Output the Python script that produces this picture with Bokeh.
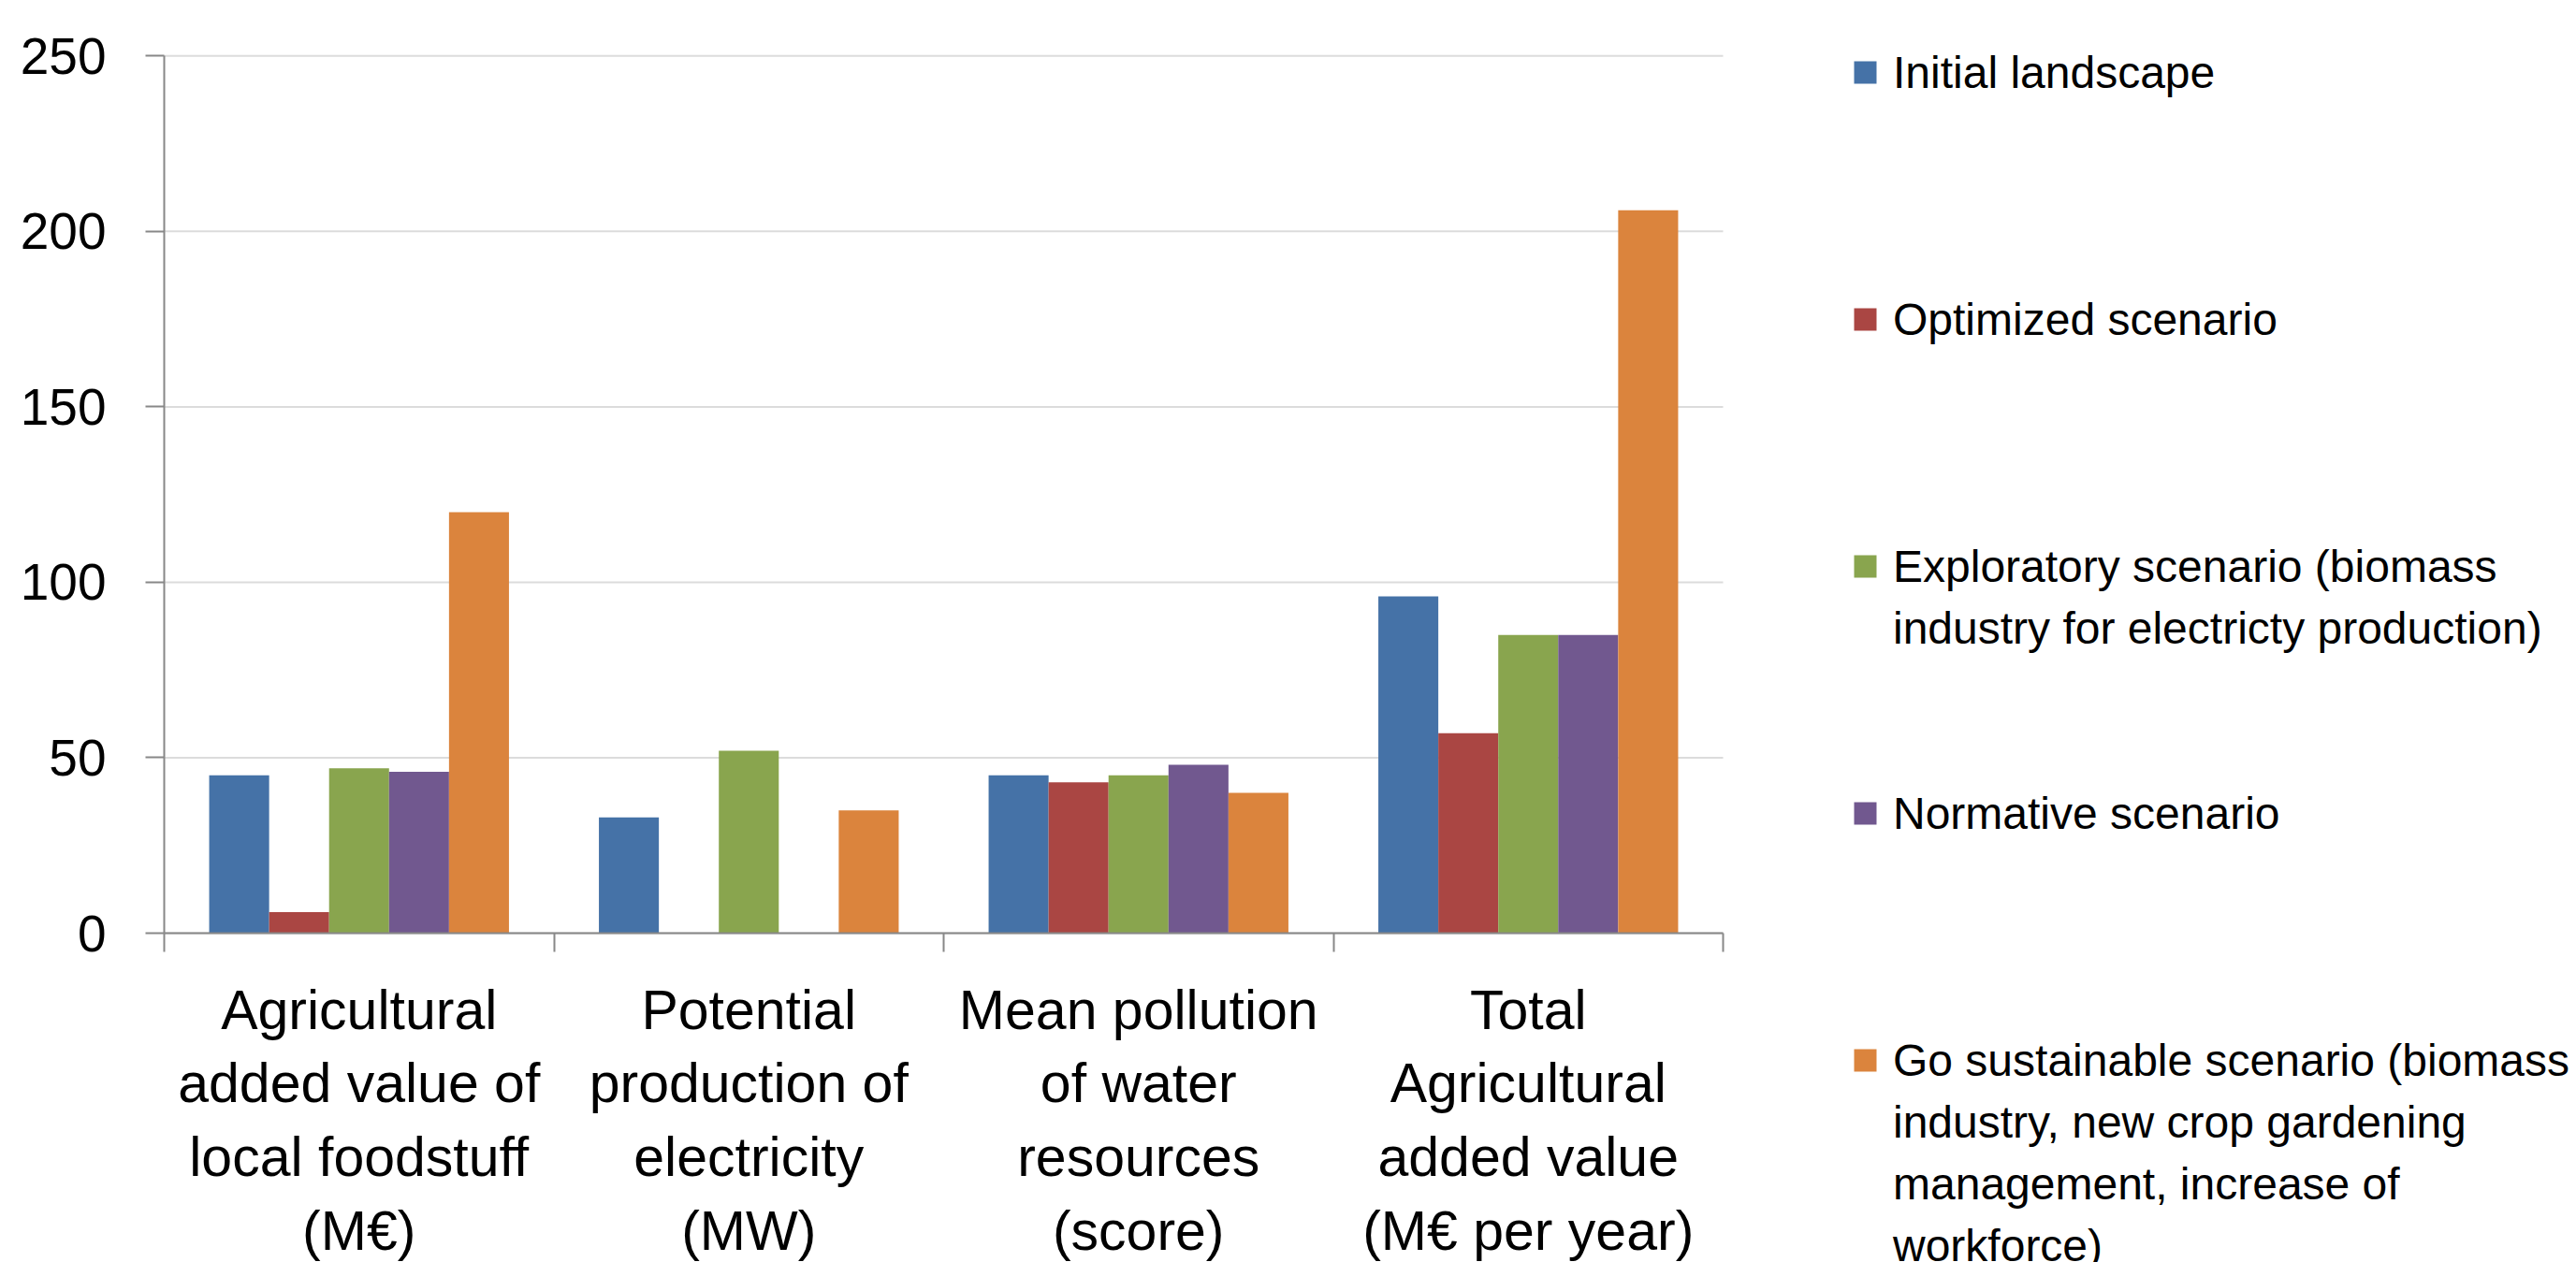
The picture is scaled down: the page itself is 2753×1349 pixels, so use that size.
from bokeh.plotting import figure
from bokeh.models import (ColumnDataSource, Range1d, FixedTicker, Legend, LegendItem)
from bokeh.transform import dodge
from bokeh.embed import file_html
from bokeh.resources import INLINE

# ---------------- data ----------------
categories = [
    "Agricultural\nadded value of\nlocal foodstuff\n(M€)",
    "Potential\nproduction of\nelectricity\n(MW)",
    "Mean pollution\nof water\nresources\n(score)",
    "Total\nAgricultural\nadded value\n(M€ per year)",
]
series_names = [
    "Initial landscape",
    "Optimized scenario",
    "Exploratory scenario (biomass\nindustry for electricty production)",
    "Normative scenario",
    "Go sustainable scenario (biomass\nindustry, new crop gardening\nmanagement, increase of\nworkforce)",
]
initial_landscape = [45, 33, 45, 96]
optimized_scenario = [6, 0, 43, 57]
exploratory_scenario = [47, 52, 45, 85]
normative_scenario = [46, 0, 48, 85]
go_sustainable_scenario = [120, 35, 40, 206]
y_ticks = [0, 50, 100, 150, 200, 250]

colors = ["#4572A7", "#AA4643", "#89A54E", "#71588F", "#DB843D"]
FONT = "Liberation Sans"
AXIS_COLOR = "#888888"
GRID_COLOR = "#DCDCDC"

series_values = [initial_landscape, optimized_scenario, exploratory_scenario,
                 normative_scenario, go_sustainable_scenario]
keys = ["s%d" % i for i in range(len(series_values))]
n_cat = len(categories)
centres = [i + 0.5 for i in range(n_cat)]       # category i occupies [i, i+1]
data = {"cat": categories, "pos": centres}
for k, v in zip(keys, series_values):
    data[k] = v
source = ColumnDataSource(data=data)

# ---------------- geometry (pixels); the frame covers the whole canvas ----------------
W, H = 2753, 1349
X_LEFT_PX, X_RIGHT_PX = 175.0, 1841.0       # pixel columns of the plot area edges
Y_TOP_PX, Y_ZERO_PX = 59.3, 997.0           # pixel rows of the top tick and of zero
px_per_cat = (X_RIGHT_PX - X_LEFT_PX) / n_cat
x_lo = -X_LEFT_PX / px_per_cat
x_hi = n_cat + (W - X_RIGHT_PX) / px_per_cat
px_per_unit = (Y_ZERO_PX - Y_TOP_PX) / (y_ticks[-1] - y_ticks[0])
y_lo = y_ticks[0] - (H - Y_ZERO_PX) / px_per_unit
y_hi = y_ticks[-1] + Y_TOP_PX / px_per_unit

p = figure(x_range=Range1d(x_lo, x_hi), y_range=Range1d(y_lo, y_hi),
           width=W, height=H, output_backend="svg", toolbar_location=None,
           min_border_left=0, min_border_right=0,
           min_border_top=0, min_border_bottom=0)
p.outline_line_color = None
p.background_fill_color = "white"
p.border_fill_color = "white"
p.xgrid.visible = False
p.ygrid.visible = False

# y axis at x = 0
ya = p.yaxis[0]
ya.fixed_location = 0
ya.ticker = FixedTicker(ticks=y_ticks)
ya.bounds = (y_ticks[0], y_ticks[-1])
ya.minor_tick_line_color = None
ya.major_tick_in = 0
ya.major_tick_out = 20
ya.major_tick_line_color = AXIS_COLOR
ya.major_tick_line_width = 2
ya.axis_line_color = AXIS_COLOR
ya.axis_line_width = 2
ya.major_label_text_font = FONT
ya.major_label_text_font_size = "55px"
ya.major_label_text_color = "black"
ya.major_label_standoff = 42

# x axis at y = 0: labels at category centres, tick marks at category boundaries
xa = p.xaxis[0]
xa.fixed_location = 0
xa.bounds = (0, n_cat)
xa.ticker = FixedTicker(ticks=centres, minor_ticks=list(range(n_cat + 1)))
xa.major_label_overrides = {c: lab for c, lab in zip(centres, categories)}
xa.major_tick_out = 0
xa.major_tick_in = 0
xa.major_tick_line_color = None
xa.minor_tick_in = 0
xa.minor_tick_out = 20
xa.minor_tick_line_color = AXIS_COLOR
xa.minor_tick_line_width = 2
xa.axis_line_color = AXIS_COLOR
xa.axis_line_width = 2
xa.major_label_text_font = FONT
xa.major_label_text_font_size = "59px"
xa.major_label_text_color = "black"
xa.major_label_text_line_height = 1.196
xa.major_label_standoff = 29

# horizontal gridlines across the category span only
p.segment(x0=[0] * len(y_ticks), x1=[n_cat] * len(y_ticks), y0=y_ticks, y1=y_ticks,
          line_color=GRID_COLOR, line_width=2)

# bars
n = len(series_values)
bar_w = 1.0 / (n + 1.5)
renderers = []
for i, (k, c) in enumerate(zip(keys, colors)):
    off = (i - (n - 1) / 2.0) * bar_w
    r = p.vbar(x=dodge("pos", off), top=k, width=bar_w, source=source,
               fill_color=c, line_color=None)
    renderers.append(r)

# ---------------- legend (one row per text line, 4 rows per entry) ----------------
ROWS_PER_ENTRY = 4
items = []
for i, (name, r) in enumerate(zip(series_names, renderers)):
    lines = name.split("\n")
    items.append(LegendItem(label=lines[0], renderers=[r]))
    for ln in lines[1:]:
        items.append(LegendItem(label=ln, renderers=[]))
    if i < len(series_names) - 1:
        for _ in range(ROWS_PER_ENTRY - len(lines)):
            items.append(LegendItem(label=" ", renderers=[]))

ROW_H, ROW_GAP = 64, 2
leg_h = len(items) * ROW_H + (len(items) - 1) * ROW_GAP
leg_top, leg_left = 45, 1978
legend = Legend(items=items, location=(leg_left, H - leg_top - leg_h),
                border_line_color=None, background_fill_alpha=0,
                padding=0, margin=0, spacing=ROW_GAP,
                glyph_width=30, glyph_height=30, label_standoff=15,
                label_height=ROW_H,
                label_text_font=FONT, label_text_font_size="48px",
                label_text_color="black")
p.add_layout(legend)

open("out.html", "w").write(file_html(p, INLINE))
